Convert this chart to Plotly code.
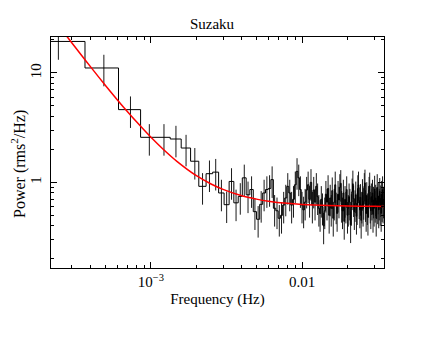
import numpy as np
import plotly.graph_objects as go

title_text = "Suzaku"
x_title = "Frequency (Hz)"
y_title = "Power (rms<sup>2</sup>/Hz)"

# frequency resolution of the power spectrum (Hz)
freq_step = 2.44e-4

# power per frequency bin (rms^2/Hz)
power = [
    19.4, 11.1, 4.62, 2.58, 2.58, 2.49, 2.06, 1.56, 0.92, 1.20,
    1.24, 0.80, 0.625, 1.02, 0.65, 0.745, 1.10, 0.77, 0.86, 0.54,
    0.46, 0.63, 0.80, 0.86, 0.88, 1.06, 0.58, 0.55, 0.47, 0.50,
    0.62, 0.72, 0.92, 0.80, 0.62, 0.70, 0.95, 1.26, 1.10, 0.86,
    0.62, 0.56, 0.66, 0.85, 0.95, 0.70, 1.00, 0.62, 0.85, 0.66,
    0.92, 0.74, 0.58, 0.52, 0.70, 0.60, 0.40, 0.55, 0.78, 0.66,
    0.88, 0.50, 0.72, 0.58, 0.84, 0.47, 0.66, 0.95, 0.61, 0.52,
    0.78, 0.69, 0.90, 0.98, 0.63, 0.55, 0.80, 0.44, 0.70, 0.62,
    0.86, 0.50, 0.58, 0.74, 0.66, 0.41, 0.59, 0.82, 0.97, 0.71,
    0.54, 0.64, 0.77, 0.49, 0.60, 0.88, 0.95, 0.68, 0.56, 0.73,
    0.45, 0.62, 0.81, 0.58, 0.67, 0.92, 0.99, 0.64, 0.52, 0.76,
    0.60, 0.48, 0.70, 0.85, 0.93, 0.62, 0.55, 0.74, 0.66, 0.80,
    0.51, 0.69, 0.58, 0.87, 0.63, 0.72, 0.47, 0.68, 0.90, 0.61,
    0.75, 0.56, 0.66, 0.83, 0.59, 0.71, 0.52, 0.78, 0.64, 0.86,
    0.62, 0.69,
]
# relative 1-sigma uncertainty of each power value
rel_error = 0.32

# red model curve, sampled
model_freq = [2.0e-4, 2.5e-4, 3.0e-4, 3.5e-4, 4.0e-4, 5.0e-4, 6.0e-4, 7.0e-4,
              8.0e-4, 1.0e-3, 1.2e-3, 1.5e-3, 2.0e-3, 2.5e-3, 3.0e-3, 4.0e-3,
              5.0e-3, 6.0e-3, 8.0e-3, 1.0e-2, 1.5e-2, 2.0e-2, 3.0e-2, 3.6e-2]
model_power = [38.9, 26.0, 18.8, 14.3, 11.3, 7.69, 5.67, 4.42,
               3.59, 2.58, 2.02, 1.54, 1.15, 0.967, 0.863, 0.754,
               0.703, 0.673, 0.643, 0.629, 0.614, 0.608, 0.604, 0.603]

x_tick_vals = [1e-3, 1e-2]
x_tick_text = ["10<sup>\u22123</sup>", "0.01"]
y_tick_vals = [1, 10]
y_tick_text = ["1", "10"]
x_range = [2.18e-4, 3.49e-2]
y_range = [0.165, 21.3]

# ---------------------------------------------------------------
p = np.array(power)
n = len(p)
freq = freq_step * np.arange(1, n + 1)
lo = freq - freq_step / 2
hi = freq + freq_step / 2
step_x = np.column_stack([lo, hi]).ravel()
step_y = np.repeat(p, 2)
err = rel_error * p

x_minor = [m * 10.0 ** e for e in (-4, -3, -2) for m in range(2, 10)]
y_minor = [m * 10.0 ** e for e in (-1, 0, 1) for m in range(2, 10)]

fig = go.Figure()
fig.add_trace(go.Scatter(
    x=freq, y=p, mode="markers",
    marker=dict(size=0.1, color="rgba(0,0,0,0)"),
    error_y=dict(type="data", array=err, color="#1a1a1a", thickness=1, width=0),
    showlegend=False, hoverinfo="skip"))
fig.add_trace(go.Scatter(
    x=step_x, y=step_y, mode="lines",
    line=dict(color="black", width=1),
    showlegend=False))
fig.add_trace(go.Scatter(
    x=model_freq, y=model_power, mode="lines", line_shape="spline",
    line=dict(color="red", width=1.5),
    showlegend=False))

font = dict(family="Liberation Serif, Times New Roman, serif", size=15, color="black")
axis_common = dict(
    type="log", showgrid=False, zeroline=False, automargin=False,
    showline=True, linecolor="black", linewidth=1, mirror="ticks",
    ticks="inside", ticklen=6, tickwidth=1, tickcolor="black",
    tickfont=font,
)

# the page body adds an 8px offset, so the figure is 8px smaller each way
W, H = 428, 329
ML, MR, MT, MB = 43, 52, 29, 69
plot_w, plot_h = W - ML - MR, H - MT - MB
fig.update_layout(
    width=W, height=H,
    margin=dict(l=ML, r=MR, t=MT, b=MB),
    paper_bgcolor="white", plot_bgcolor="white",
    font=font,
    title=dict(text=title_text, x=204 / W, xref="container", xanchor="center",
               y=1 - 16 / H, yref="container", yanchor="middle", font=font),
    xaxis=dict(**axis_common,
               range=[np.log10(x_range[0]), np.log10(x_range[1])],
               tickmode="array", tickvals=x_tick_vals, ticktext=x_tick_text,
               minor=dict(tickmode="array", tickvals=x_minor, ticks="inside",
                          ticklen=3, tickcolor="black", tickwidth=1),
               title=dict(text=x_title, font=font, standoff=4)),
    yaxis=dict(**axis_common,
               range=[np.log10(y_range[0]), np.log10(y_range[1])],
               tickmode="array", tickvals=y_tick_vals, ticktext=y_tick_text,
               tickangle=-90, ticklabelstandoff=3,
               minor=dict(tickmode="array", tickvals=y_minor, ticks="inside",
                          ticklen=3, tickcolor="black", tickwidth=1)),
    annotations=[dict(
        text=y_title, textangle=-90, showarrow=False,
        xref="paper", yref="paper",
        x=(10 - ML) / plot_w, y=1 - (156 - MT) / plot_h,
        xanchor="center", yanchor="middle",
        font=dict(family=font["family"], size=16, color="black"))],
)

fig.write_html("out.html")
